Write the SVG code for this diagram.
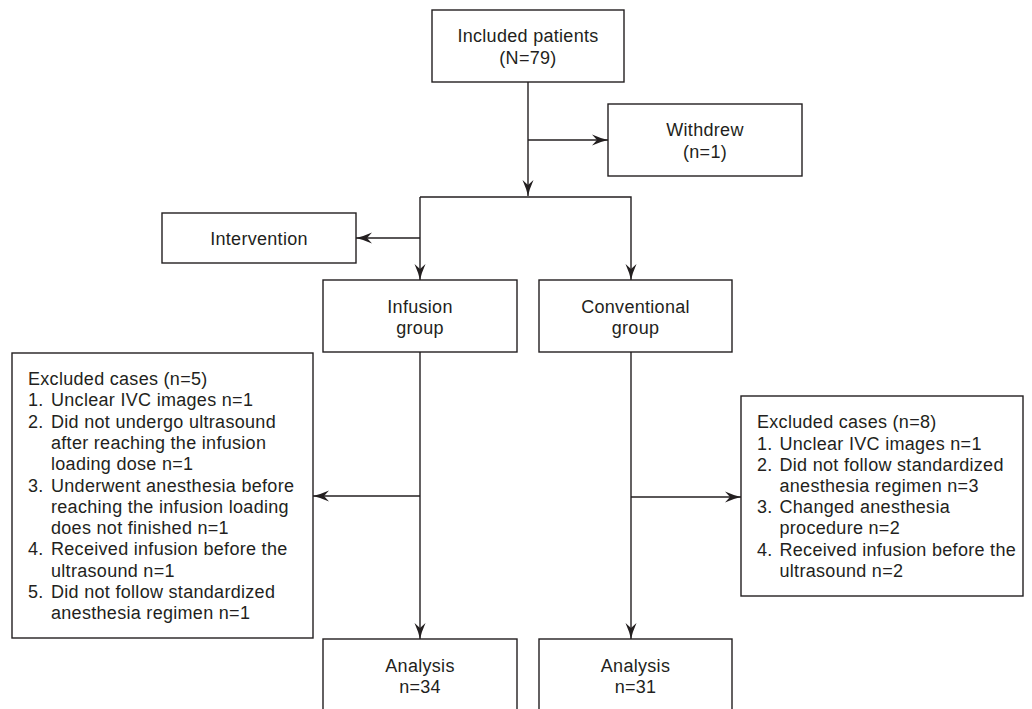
<svg xmlns="http://www.w3.org/2000/svg" width="1032" height="709" viewBox="0 0 1032 709">
<style>
  .box { fill: #ffffff; stroke: #231f20; stroke-width: 1.4; }
  .t { font-family: "Liberation Sans", Arial, sans-serif; font-size: 18px; fill: #231f20; letter-spacing: 0.3px; }
  .c { text-anchor: middle; }
  .conn { fill: none; stroke: #231f20; stroke-width: 1.4; }
</style>
<defs>
  <marker id="arr" markerUnits="userSpaceOnUse" markerWidth="17" markerHeight="12" viewBox="0 0 17 12" refX="16" refY="6" orient="auto">
    <path d="M0,0.5 Q9,4.5 16,6 Q9,7.5 0,11.5 L5,6 Z" fill="#231f20"/>
  </marker>
</defs>
<rect width="1032" height="709" fill="#ffffff"/>

<g id="connectors">
  <path class="conn" d="M528,82 L528,196" marker-end="url(#arr)"/>
  <path class="conn" d="M528,140 L608,140" marker-end="url(#arr)"/>
  <path class="conn" d="M420,197 L420,280" marker-end="url(#arr)"/>
  <path class="conn" d="M420,197 L631,197 L631,280" marker-end="url(#arr)"/>
  <path class="conn" d="M420,238 L356,238" marker-end="url(#arr)"/>
  <path class="conn" d="M420,352 L420,639" marker-end="url(#arr)"/>
  <path class="conn" d="M420,496 L313,496" marker-end="url(#arr)"/>
  <path class="conn" d="M631,352 L631,639" marker-end="url(#arr)"/>
  <path class="conn" d="M631,497 L741,497" marker-end="url(#arr)"/>
</g>

<g id="included">
  <rect class="box" x="432" y="10" width="192" height="72"/>
  <text class="t c" x="528" y="42">Included patients</text>
  <text class="t c" x="528" y="63.5">(N=79)</text>
</g>

<g id="withdrew">
  <rect class="box" x="608" y="104" width="194" height="72"/>
  <text class="t c" x="705" y="136">Withdrew</text>
  <text class="t c" x="705" y="157.5">(n=1)</text>
</g>

<g id="intervention">
  <rect class="box" x="162" y="213" width="194" height="50"/>
  <text class="t c" x="259" y="245">Intervention</text>
</g>

<g id="infusion">
  <rect class="box" x="323" y="280" width="194" height="72"/>
  <text class="t c" x="420" y="312.5">Infusion</text>
  <text class="t c" x="420" y="334">group</text>
</g>

<g id="conventional">
  <rect class="box" x="539" y="280" width="193" height="72"/>
  <text class="t c" x="635.5" y="312.5">Conventional</text>
  <text class="t c" x="635.5" y="334">group</text>
</g>

<g id="excluded-infusion">
  <rect class="box" x="12" y="353" width="301" height="285"/>
  <text class="t" x="28" y="385">Excluded cases (n=5)</text>
  <text class="t" x="28" y="406.3">1.</text><text class="t" x="51" y="406.3">Unclear IVC images n=1</text>
  <text class="t" x="28" y="427.6">2.</text><text class="t" x="51" y="427.6">Did not undergo ultrasound</text>
  <text class="t" x="51" y="448.9">after reaching the infusion</text>
  <text class="t" x="51" y="470.2">loading dose n=1</text>
  <text class="t" x="28" y="491.5">3.</text><text class="t" x="51" y="491.5">Underwent anesthesia before</text>
  <text class="t" x="51" y="512.8">reaching the infusion loading</text>
  <text class="t" x="51" y="534.1">does not finished n=1</text>
  <text class="t" x="28" y="555.4">4.</text><text class="t" x="51" y="555.4">Received infusion before the</text>
  <text class="t" x="51" y="576.7">ultrasound n=1</text>
  <text class="t" x="28" y="598">5.</text><text class="t" x="51" y="598">Did not follow standardized</text>
  <text class="t" x="51" y="619.3">anesthesia regimen n=1</text>
</g>

<g id="excluded-conventional">
  <rect class="box" x="741" y="396" width="282" height="200"/>
  <text class="t" x="757" y="428.3">Excluded cases (n=8)</text>
  <text class="t" x="757" y="449.5">1.</text><text class="t" x="779.5" y="449.5">Unclear IVC images n=1</text>
  <text class="t" x="757" y="470.7">2.</text><text class="t" x="779.5" y="470.7">Did not follow standardized</text>
  <text class="t" x="779.5" y="491.9">anesthesia regimen n=3</text>
  <text class="t" x="757" y="513.1">3.</text><text class="t" x="779.5" y="513.1">Changed anesthesia</text>
  <text class="t" x="779.5" y="534.3">procedure n=2</text>
  <text class="t" x="757" y="555.5">4.</text><text class="t" x="779.5" y="555.5">Received infusion before the</text>
  <text class="t" x="779.5" y="576.7">ultrasound n=2</text>
</g>

<g id="analysis-infusion">
  <rect class="box" x="323" y="639" width="194" height="90"/>
  <text class="t c" x="420" y="672">Analysis</text>
  <text class="t c" x="420" y="692.5">n=34</text>
</g>

<g id="analysis-conventional">
  <rect class="box" x="539" y="639" width="193" height="90"/>
  <text class="t c" x="635.5" y="672">Analysis</text>
  <text class="t c" x="635.5" y="692.5">n=31</text>
</g>
</svg>
